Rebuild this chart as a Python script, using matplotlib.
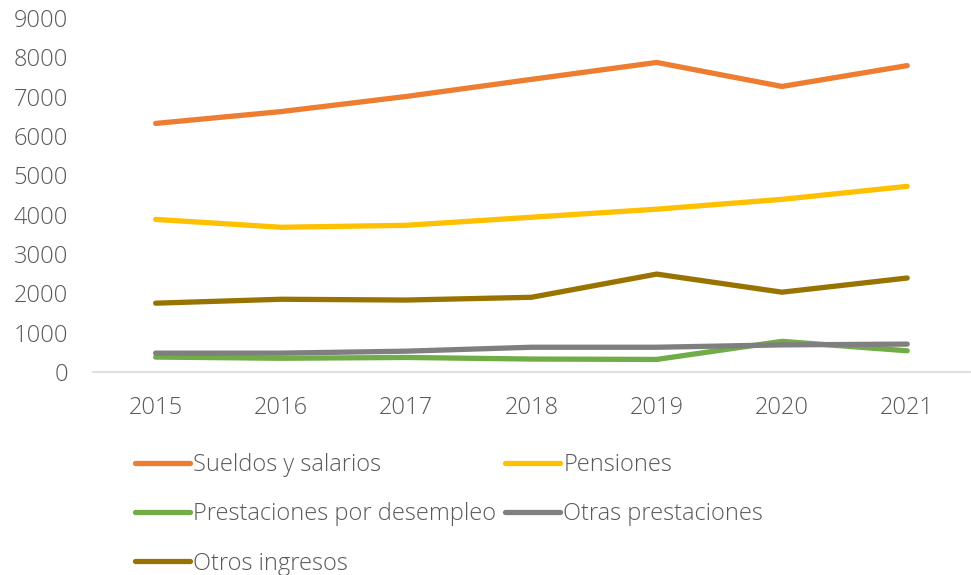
import matplotlib
matplotlib.use("Agg")
import matplotlib.pyplot as plt

plt.rcParams['font.family'] = ['Open Sans', 'DejaVu Sans']

years = ["2015", "2016", "2017", "2018", "2019", "2020", "2021"]
sueldos = [6320, 6620, 7005, 7440, 7870, 7260, 7790]
pensiones = [3880, 3680, 3730, 3935, 4140, 4390, 4720]
desempleo = [380, 350, 370, 330, 320, 780, 540]
otras_prest = [480, 480, 530, 630, 630, 690, 710]
otros_ingresos = [1750, 1850, 1830, 1900, 2490, 2030, 2390]

series = [
    ("Sueldos y salarios", sueldos, "#ED7D31"),
    ("Pensiones", pensiones, "#FFC000"),
    ("Prestaciones por desempleo", desempleo, "#70AD47"),
    ("Otras prestaciones", otras_prest, "#7F7F7F"),
    ("Otros ingresos", otros_ingresos, "#997300"),
]
draw_order = [0, 1, 4, 2, 3]

fig = plt.figure(figsize=(9.71, 5.75), dpi=100)
ax = fig.add_axes([0.0958, 0.353, 0.903, 0.6157])

x = list(range(len(years)))
handles = {}
for i in draw_order:
    name, vals, col = series[i]
    h, = ax.plot(x, vals, color=col, lw=3.8, solid_capstyle='round',
                 solid_joinstyle='round', label=name)
    handles[i] = h

ax.set_xlim(-0.5, len(years) - 0.5)
ax.set_ylim(0, 9000)
ax.set_yticks(range(0, 9001, 1000))
ax.set_xticks(x)
ax.set_xticklabels(years)
for s in ['top', 'right', 'left']:
    ax.spines[s].set_visible(False)
ax.spines['bottom'].set_color('#D9D9D9')
ax.spines['bottom'].set_linewidth(1.2)
ax.tick_params(axis='both', length=0, labelsize=17, labelcolor='#595959')
ax.tick_params(axis='y', pad=18)
ax.tick_params(axis='x', pad=17)
for lbl in ax.get_xticklabels() + ax.get_yticklabels():
    lbl.set_fontweight('light')

# legend entries filled column-wise, so order them to read row by row
leg_order = [0, 2, 4, 1, 3]
leg = fig.legend([handles[i] for i in leg_order], [series[i][0] for i in leg_order],
                 loc='upper left', bbox_to_anchor=(0.139, 0.212),
                 ncol=2, frameon=False, fontsize=17, handlelength=2.33,
                 handletextpad=0.12, columnspacing=0.4, labelspacing=1.07,
                 borderaxespad=0, borderpad=0)
for t in leg.get_texts():
    t.set_color('#595959')
    t.set_fontweight('light')

fig.savefig("out.png", dpi=100)
